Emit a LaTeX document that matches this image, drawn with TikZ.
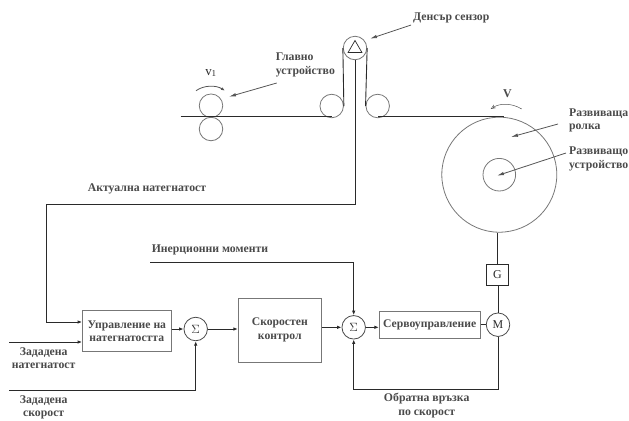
\documentclass[tikz,border=0pt]{standalone}
\usepackage{fontspec}
\setmainfont{Liberation Serif}
\usetikzlibrary{arrows.meta,shapes.geometric}
\definecolor{lbl}{HTML}{4A4A4A}
\definecolor{ln}{HTML}{2A2A2A}
\definecolor{bx}{HTML}{777777}
\tikzset{
 x=1bp,y=-1bp,
 wire/.style={draw=ln,line width=0.9bp},
 flow/.style={wire,-{Latex[length=4.5bp,width=3.5bp]}},
 note/.style={draw=ln!80,line width=0.8bp,-{Latex[length=7bp,width=3.5bp]}},
 roller/.style={circle,draw=bx,line width=0.8bp,minimum size=23.5bp,inner sep=0pt},
 sumnode/.style={circle,draw=ln!85,line width=0.8bp,minimum size=23.5bp,inner sep=0pt,font=\fontsize{11.5}{11.5}\selectfont,text=ln},
 block/.style={draw=bx,line width=0.9bp,inner sep=0pt,align=center,text=lbl,font=\fontsize{11.7}{13.8}\selectfont\bfseries},
 lab/.style={inner sep=0pt,align=center,text=lbl,font=\fontsize{11.8}{13.5}\selectfont\bfseries},
}
\begin{document}
\begin{tikzpicture}
\useasboundingbox (0,0) rectangle (629,420);
% rollers
\node[roller] (r1) at (211,105.7) {};
\node[roller] (r2) at (211,129) {};
\node[roller] (idl) at (331.7,106) {};
\node[roller] (idr) at (377.7,106) {};
\node[roller] (dan) at (355,48) {};
\node[regular polygon,regular polygon sides=3,draw=ln,line width=0.7bp,minimum size=16bp,inner sep=0pt] (tri) at (355,48.5) {};
\node[circle,draw=bx,line width=0.8bp,minimum size=115bp,inner sep=0pt] (big) at (499.3,174.7) {};
\node[circle,draw=bx,line width=0.8bp,minimum size=32.6bp,inner sep=0pt] (hub) at (499.3,174.7) {};
% web
\coordinate (webl) at (180.7,116.7);
\coordinate (webm) at (331.7,116.7);
\coordinate (webr) at (378,116.7);
\coordinate (webe) at (504,116.7);
\draw[wire] (webl) -- (webm);
\draw[wire] (webr) -- (webe);
\draw[wire] (dan.west) -- (idl.east);
\draw[wire] (dan.east) -- (idr.west);
% blocks
\node[block,minimum width=88.5bp,minimum height=41bp] (tc) at (126.8,331.2) {Управление на\\натегнатостта};
\node[sumnode] (s1) at (195.7,329) {$\Sigma$};
\node[block,minimum width=83bp,minimum height=63.7bp] (sc) at (279.8,330.2) {Скоростен\\контрол};
\node[sumnode] (s2) at (353.7,327.3) {$\Sigma$};
\node[block,minimum width=100.7bp,minimum height=26.3bp] (sv) at (429.7,324.8) {Сервоуправление};
\node[sumnode,font=\fontsize{12}{12}\selectfont] (m) at (498,324.7) {M};
\node[draw=ln,line width=0.9bp,minimum width=22.3bp,minimum height=20.6bp,inner sep=0pt,text=ln,font=\fontsize{12}{12}\selectfont] (g) at (497.5,275) {G};
% connectors
\coordinate (c1) at (355.7,204);
\coordinate (c2) at (46.7,204);
\coordinate (c3) at (46.7,322);
\draw[flow] (dan.south -| c1) -- (c1) -- (c2) -- (c3) -- (tc.west |- c3);
\coordinate (zn) at (9.3,342);
\draw[flow] (zn) -- (tc.west |- zn);
\coordinate (zs) at (9.3,390.3);
\coordinate (zs2) at (195.7,390.3);
\draw[flow] (zs) -- (zs2) -- (s1.south);
\draw[flow] (tc.east |- s1) -- (s1.west);
\draw[flow] (s1.east) -- (sc.west |- s1);
\draw[flow] (sc.east |- s2) -- (s2.west);
\draw[flow] (s2.east) -- (sv.west |- s2);
\draw[wire] (sv.east |- m) -- (m.west);
\draw[wire] (m.north) -- (g.south -| m);
\draw[wire] (g.north) -- (g.north |- big.south);
\coordinate (in1) at (150,262.7);
\coordinate (in2) at (353.7,262.7);
\draw[flow] (in1) -- (in2) -- (s2.north);
\coordinate (fb1) at (498,389.3);
\coordinate (fb2) at (353.7,389.3);
\draw[flow] (m.south) -- (fb1) -- (fb2) -- (s2.south);
% notes
\node[lab,anchor=west] (tden) at (413,18) {Денсър сензор};
\node[lab,anchor=west,align=left] (tgl) at (275.7,65) {Главно\\устройство};
\node[lab,anchor=west,align=left] (trr) at (569,120.5) {Развиваща\\ролка};
\node[lab,anchor=west,align=left] (tru) at (569,159) {Развиващо\\устройство};
\coordinate (a1) at (411,25);
\coordinate (a2) at (370,38.7);
\draw[note] (a1) -- (a2);
\coordinate (a3) at (276.7,83);
\coordinate (a4) at (229,96.7);
\draw[note] (a3) -- (a4);
\coordinate (a5) at (558,124);
\coordinate (a6) at (511,137);
\draw[note] (a5) -- (a6);
\coordinate (a7) at (566,153);
\coordinate (a8) at (497,175.7);
\draw[note] (a7) -- (a8);
% speed marks
\node[inner sep=0pt,text=ln,font=\fontsize{13}{13}\selectfont] (v1) at (211,73) {v$_{\mathrm 1}$};
\node[lab,font=\fontsize{12}{12}\selectfont\bfseries] (vv) at (507.5,93.5) {V};
\coordinate (b1) at (196,90.7);
\coordinate (b2) at (225,90.7);
\draw[note,-{Latex[length=4bp,width=3bp]}] (b1) .. controls (204,85) and (216,85) .. (b2);
\coordinate (b3) at (521.7,109);
\coordinate (b4) at (490.7,109);
\draw[note,line width=0.5bp,-{Stealth[length=5bp,width=4bp,open]}] (b3) .. controls (512,103) and (500,103) .. (b4);
% labels
\node[lab] (takt) at (147,189) {Актуална натегнатост};
\node[lab] (tin) at (210,250) {Инерционни моменти};
\node[lab] (tzn) at (43.7,358) {Зададена\\натегнатост};
\node[lab] (tzs) at (43.7,407.5) {Зададена\\скорост};
\node[lab] (tfb) at (426.7,405.5) {Обратна връзка\\по скорост};
\end{tikzpicture}
\end{document}
